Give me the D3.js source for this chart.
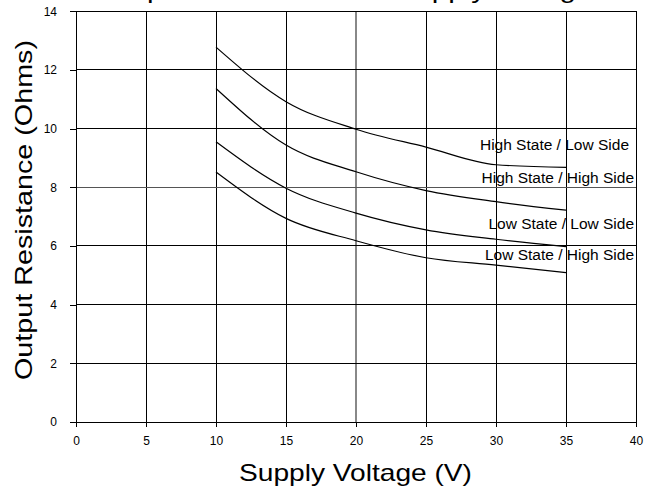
<!DOCTYPE html>
<style>
  body { margin: 0; background: #fff; }
  text { font-family: "Liberation Sans", Arial, sans-serif; fill: #000; }
  .grid line { stroke: #000; stroke-width: 1px; shape-rendering: crispEdges; }
  .axis path, .axis line { stroke: #000; shape-rendering: crispEdges; }
  .curve { fill: none; stroke: #000; stroke-width: 1.2px; }
</style>
<svg width="646" height="490"></svg>
<script src="https://d3js.org/d3.v7.min.js"></script>
<script>
  var voltage = [10, 15, 20, 25, 30, 35];
  var highLow = [12.78, 10.92, 9.98, 9.37, 8.77, 8.68];
  var highHigh = [11.37, 9.44, 8.53, 7.89, 7.51, 7.22];
  var lowLow = [9.55, 7.97, 7.12, 6.55, 6.23, 5.98];
  var lowHigh = [8.52, 6.94, 6.18, 5.60, 5.35, 5.09];
  var seriesNames = ["High State / Low Side", "High State / High Side", "Low State / Low Side", "Low State / High Side"];
  // where each label sits, in data units (right end, baseline)
  var labelX = [39.5, 39.86, 39.86, 39.86];
  var labelY = [9.27, 8.15, 6.58, 5.52];
  var xTicks = [0, 5, 10, 15, 20, 25, 30, 35, 40];
  var yTicks = [0, 2, 4, 6, 8, 10, 12, 14];

  var svg = d3.select("svg");
  var x = d3.scaleLinear().domain([0, 40]).range([76, 636]);
  var y = d3.scaleLinear().domain([0, 14]).range([422, 11.3]);

  // gridlines
  var grid = svg.append("g").attr("class", "grid");
  grid.selectAll("line.v").data(xTicks).enter().append("line")
      .attr("x1", d => x(d)).attr("x2", d => x(d))
      .attr("y1", y(0)).attr("y2", y(14))
      .style("stroke", d => d == 20 ? "#888" : null)
      .style("stroke-width", d => d == 20 ? 2 : null);
  grid.selectAll("line.h").data(yTicks).enter().append("line")
      .attr("x1", x(0)).attr("x2", x(40))
      .attr("y1", d => y(d)).attr("y2", d => y(d))
      .style("stroke", d => d == 8 ? "#555" : null)
      .style("stroke-width", d => d == 8 ? 1.5 : null);

  svg.append("g").attr("class", "axis")
      .attr("transform", "translate(0," + y(0) + ")")
      .call(d3.axisBottom(x).tickValues(xTicks).tickSize(5).tickSizeOuter(0).tickPadding(9))
      .call(g => g.selectAll("text").style("font-size", "12px").attr("font-family", null));
  svg.append("g").attr("class", "axis")
      .attr("transform", "translate(" + x(0) + ",0)")
      .call(d3.axisLeft(y).tickValues(yTicks).tickSize(6).tickPadding(13).tickSizeOuter(0))
      .call(g => g.selectAll("text").style("font-size", "12px").attr("font-family", null));

  var line = d3.line()
      .x((d, i) => x(voltage[i]))
      .y(d => y(d))
      .curve(d3.curveMonotoneX);

  var all = [highLow, highHigh, lowLow, lowHigh];
  svg.selectAll("path.curve").data(all).enter().append("path")
      .attr("class", "curve")
      .attr("d", line);

  svg.selectAll("text.lbl").data(seriesNames).enter().append("text")
      .attr("class", "lbl")
      .attr("x", (d, i) => x(labelX[i]))
      .attr("y", (d, i) => y(labelY[i]))
      .attr("text-anchor", "end")
      .style("font-size", "15.5px")
      .text(d => d);

  // titles (the chart title is clipped by the top edge, as in the original)
  svg.append("text")
      .attr("x", 99.4).attr("y", -2)
      .attr("textLength", 493).attr("lengthAdjust", "spacingAndGlyphs")
      .style("font-size", "24px")
      .text("Output Resistance vs. Supply Voltage");
  svg.append("text")
      .attr("x", 239).attr("y", 481)
      .attr("textLength", 233).attr("lengthAdjust", "spacingAndGlyphs")
      .style("font-size", "24px")
      .text("Supply Voltage (V)");
  svg.append("text")
      .attr("transform", "translate(32,380) rotate(-90)")
      .attr("textLength", 340).attr("lengthAdjust", "spacingAndGlyphs")
      .style("font-size", "24px")
      .text("Output Resistance (Ohms)");
</script>
